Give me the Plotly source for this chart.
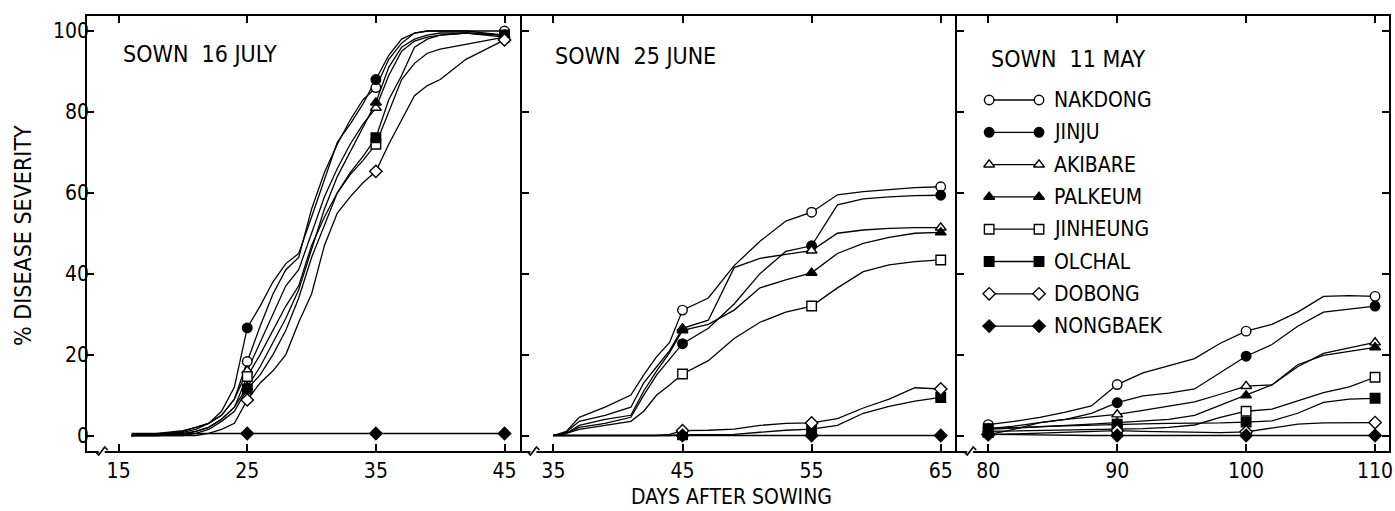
import plotly.graph_objects as go

W, H = 1395, 511
FONT = "DejaVu Sans Condensed, DejaVu Sans, sans-serif"

# ---------------- data ----------------
VARIETIES = ["NAKDONG", "JINJU", "AKIBARE", "PALKEUM", "JINHEUNG", "OLCHAL", "DOBONG", "NONGBAEK"]
SYMBOLS = ["circle", "circle", "triangle-up", "triangle-up", "square", "square", "diamond", "diamond"]
FILLS = ["white", "black", "white", "black", "white", "black", "white", "black"]
PANEL_TITLES = ["SOWN\u00a0\u00a016 JULY", "SOWN\u00a0\u00a025 JUNE", "SOWN\u00a0\u00a011 MAY"]
X_TITLE = "DAYS AFTER SOWING"
Y_TITLE = "% DISEASE SEVERITY"

# Sown 16 July
JULY_DAYS = [16, 18, 20, 21, 22, 23, 24, 25, 26, 27, 28, 29, 30, 31, 32, 33, 34, 35, 36, 37, 38, 39, 40, 42, 45]
JULY_MEASURED = [25, 35, 45]
JULY_TICKS = [15, 25, 35, 45]
JULY_NAKDONG = [0, 0.3, 1, 2, 3, 5, 9, 18.3, 27, 35, 41, 44, 56, 65, 72, 78, 83, 86, 93, 97, 99.5, 100, 100, 100, 100]
JULY_JINJU = [0, 0.5, 1.2, 2, 3, 6, 12, 26.6, 32, 38, 42.5, 45, 54, 63, 72.5, 77, 82, 88, 94, 98, 99.5, 100, 100, 100, 99]
JULY_AKIBARE = [0, 0.2, 0.8, 1.5, 3, 5, 9, 16, 23, 30, 37, 41, 50, 59, 66, 72, 77, 81, 89, 95, 97.5, 98.5, 99, 99.5, 99]
JULY_PALKEUM = [0, 0, 0.5, 1, 2, 4, 7, 12, 17, 23, 29, 36, 46, 56, 64, 70, 76, 82.3, 91, 96, 98, 99, 99.5, 99.5, 98.5]
JULY_JINHEUNG = [0, 0, 0.3, 1, 2, 4, 7, 14.6, 20, 26, 32, 37, 47, 54, 60, 64.5, 68, 72, 80, 88, 92, 94.5, 95.5, 96.7, 98.5]
JULY_OLCHAL = [0, 0, 0, 0.5, 1.5, 3.5, 6, 11.5, 15, 20, 26, 34, 44, 52, 60, 65, 69, 73.6, 83, 89, 96, 98, 99, 99.5, 99]
JULY_DOBONG = [0, 0, 0, 0, 0.5, 1.5, 3, 8.8, 13, 16, 20, 28, 35, 47, 55, 59, 62.5, 65.3, 72, 78, 84, 86.5, 88, 93, 97.8]
JULY_NONGBAEK = [0.5, 0.5, 0.5, 0.5, 0.5, 0.5, 0.5, 0.5, 0.5, 0.5, 0.5, 0.5, 0.5, 0.5, 0.5, 0.5, 0.5, 0.5, 0.5, 0.5, 0.5, 0.5, 0.5, 0.5, 0.5]

# Sown 25 June
JUNE_DAYS = [35, 36, 37, 39, 41, 42, 43, 44, 45, 47, 49, 51, 53, 55, 57, 59, 61, 63, 65]
JUNE_MEASURED = [45, 55, 65]
JUNE_TICKS = [35, 45, 55, 65]
JUNE_NAKDONG = [0, 1, 4.5, 7, 10, 15, 19.5, 23, 31, 34, 42, 48, 53, 55.2, 59.5, 60.3, 60.8, 61.3, 61.5]
JUNE_JINJU = [0, 0.5, 2, 3, 4.5, 10, 15, 19, 22.7, 26.5, 32.5, 40, 45.5, 46.9, 57, 58.5, 59, 59.3, 59.4]
JUNE_AKIBARE = [0, 0.8, 3.5, 5, 7, 13, 17, 21, 26.5, 28.5, 41.5, 43.8, 44.8, 45.7, 50, 50.8, 51.2, 51.4, 51.4]
JUNE_PALKEUM = [0, 0.5, 2.5, 4, 5, 11, 16, 20.5, 26, 27.5, 31, 36.5, 38.5, 40.2, 45, 47.5, 49, 50, 50.2]
JUNE_JINHEUNG = [0, 0.5, 1.5, 2.5, 3.5, 6, 10, 12.5, 15.2, 18.5, 24, 28, 30.5, 32, 36.5, 40.5, 42.2, 43, 43.4]
JUNE_OLCHAL = [0, 0, 0, 0, 0, 0, 0, 0, 0.2, 0.2, 0.3, 0.8, 1.3, 1.6, 2.5, 5.5, 7.2, 8.5, 9.4]
JUNE_DOBONG = [0, 0, 0, 0, 0, 0, 0, 0.3, 1.2, 1.3, 1.6, 2.5, 3, 3.1, 4.2, 6.8, 9, 11.8, 11.5]
JUNE_NONGBAEK = [0, 0, 0, 0, 0, 0, 0, 0, 0, 0, 0, 0, 0, 0, 0, 0, 0, 0, 0]

# Sown 11 May
MAY_DAYS = [80, 82, 84, 86, 88, 90, 92, 94, 96, 98, 100, 102, 104, 106, 108, 110]
MAY_MEASURED = [80, 90, 100, 110]
MAY_TICKS = [80, 90, 100, 110]
MAY_NAKDONG = [2.7, 3.5, 4.5, 5.8, 7.3, 12.6, 15.5, 17.2, 19, 22.8, 25.8, 27.5, 30.5, 34.4, 34.6, 34.4]
MAY_JINJU = [1.7, 2.3, 3.2, 4, 5.5, 8.1, 9.8, 10.5, 11.5, 15.5, 19.6, 22.5, 27, 30.5, 31.3, 32]
MAY_AKIBARE = [0.2, 1.5, 3.2, 4, 4.6, 5.2, 6.2, 7.2, 8.3, 10.2, 12.2, 12.5, 17, 20.3, 21.6, 23]
MAY_PALKEUM = [1.5, 1.8, 2.2, 2.5, 2.8, 3.2, 3.6, 4, 5, 7.5, 9.9, 12.5, 17.5, 19.8, 20.8, 21.8]
MAY_JINHEUNG = [1, 1.1, 1.2, 1.3, 1.4, 1.5, 1.7, 2, 2.6, 4.5, 6, 6.5, 8.5, 10.6, 12, 14.4]
MAY_OLCHAL = [1.7, 2, 2.2, 2.4, 2.6, 2.8, 2.9, 3, 3, 3.1, 3.3, 3.6, 5.5, 8.2, 9, 9.2]
MAY_DOBONG = [0.2, 0.4, 0.6, 0.8, 1, 1.2, 1, 0.9, 0.8, 0.7, 0.9, 1.8, 2.8, 3.1, 3.2, 3.2]
MAY_NONGBAEK = [0.3, 0.2, 0.1, 0.1, 0, 0, 0, 0, 0, 0, 0, 0, 0, 0, 0, 0]

Y_TICKS = [0, 20, 40, 60, 80, 100]

JULY = [JULY_NAKDONG, JULY_JINJU, JULY_AKIBARE, JULY_PALKEUM, JULY_JINHEUNG, JULY_OLCHAL, JULY_DOBONG, JULY_NONGBAEK]
JUNE = [JUNE_NAKDONG, JUNE_JINJU, JUNE_AKIBARE, JUNE_PALKEUM, JUNE_JINHEUNG, JUNE_OLCHAL, JUNE_DOBONG, JUNE_NONGBAEK]
MAY = [MAY_NAKDONG, MAY_JINJU, MAY_AKIBARE, MAY_PALKEUM, MAY_JINHEUNG, MAY_OLCHAL, MAY_DOBONG, MAY_NONGBAEK]

# ---------------- layout geometry (pixels) ----------------
PLOT_TOP, PLOT_BOTTOM = 15.5, 451
PANELS = [
    dict(left=87.5, right=523, xrange=[12.56, 46.32], days=JULY_DAYS, measured=JULY_MEASURED,
         ticks=JULY_TICKS, series=JULY, title_xy=(121, 54)),
    dict(left=523, right=959.5, xrange=[32.53, 66.24], days=JUNE_DAYS, measured=JUNE_MEASURED,
         ticks=JUNE_TICKS, series=JUNE, title_xy=(555, 56)),
    dict(left=959.5, right=1393, xrange=[77.56, 111.08], days=MAY_DAYS, measured=MAY_MEASURED,
         ticks=MAY_TICKS, series=MAY, title_xy=(992, 59)),
]
YRANGE = [-3.83, 103.83]
LEG_X0, LEG_X1, LEG_TX, LEG_Y0, LEG_DY = 992, 1042, 1055, 100, 32.3


def fx(px):
    return px / W


def fy(py):
    return 1 - py / H


fig = go.Figure()

for i, p in enumerate(PANELS):
    sfx = "" if i == 0 else str(i + 1)
    xa, ya = "x" + sfx, "y" + sfx
    for vals in p["series"]:
        fig.add_trace(go.Scatter(x=p["days"], y=vals, mode="lines",
                                 line=dict(color="black", width=1.3),
                                 xaxis=xa, yaxis=ya, showlegend=False, hoverinfo="skip"))
    for vals, sym, fill in zip(p["series"], SYMBOLS, FILLS):
        mx = [d for d in p["days"] if d in p["measured"]]
        my = [v for d, v in zip(p["days"], vals) if d in p["measured"]]
        fig.add_trace(go.Scatter(x=mx, y=my, mode="markers",
                                 marker=dict(symbol=sym, size=9.5, color=fill,
                                             line=dict(color="black", width=1.4)),
                                 xaxis=xa, yaxis=ya, showlegend=False, cliponaxis=False,
                                 hoverinfo="skip"))

    axis_x = dict(domain=[fx(p["left"]), fx(p["right"])], range=p["xrange"],
                  tickvals=p["ticks"], ticktext=[str(t) for t in p["ticks"]],
                  showline=True, linecolor="black", linewidth=2, mirror="ticks",
                  ticks="inside", ticklen=7, tickwidth=1.6, tickcolor="black",
                  showgrid=False, zeroline=False, anchor=ya,
                  tickfont=dict(family=FONT, size=21, color="black"),
                  ticklabelstandoff=0, ticklabeloverflow="allow", fixedrange=True)
    axis_y = dict(domain=[fy(PLOT_BOTTOM), fy(PLOT_TOP)], range=YRANGE, tickvals=Y_TICKS,
                  showline=True, linecolor="black", linewidth=2,
                  mirror=("ticks" if i == 2 else False),
                  ticks="inside", ticklen=7, tickwidth=1.6, tickcolor="black",
                  showgrid=False, zeroline=False, anchor=xa,
                  showticklabels=(i == 0),
                  tickfont=dict(family=FONT, size=21, color="black"),
                  ticklabelstandoff=-8, ticklabeloverflow="allow", fixedrange=True)
    fig.layout["xaxis" + sfx] = axis_x
    fig.layout["yaxis" + sfx] = axis_y

# overlay pixel-space axes for legend, labels and axis-break marks
fig.layout["xaxis4"] = dict(domain=[0, 1], range=[0, W], visible=False, anchor="y4", fixedrange=True)
fig.layout["yaxis4"] = dict(domain=[0, 1], range=[H, 0], visible=False, anchor="x4", fixedrange=True)

annotations = []
for p, t in zip(PANELS, PANEL_TITLES):
    annotations.append(dict(x=p["title_xy"][0], y=p["title_xy"][1], xref="x4", yref="y4",
                            text=t, showarrow=False, xanchor="left", yanchor="middle",
                            font=dict(family=FONT, size=23, color="black")))

for k, (name, sym, fill) in enumerate(zip(VARIETIES, SYMBOLS, FILLS)):
    ly = LEG_Y0 + k * LEG_DY
    fig.add_trace(go.Scatter(x=[LEG_X0, LEG_X1], y=[ly, ly], mode="lines+markers",
                             line=dict(color="black", width=1.3),
                             marker=dict(symbol=sym, size=9.5, color=fill,
                                         line=dict(color="black", width=1.4)),
                             xaxis="x4", yaxis="y4", showlegend=False, hoverinfo="skip",
                             cliponaxis=False))
    annotations.append(dict(x=LEG_TX, y=ly, xref="x4", yref="y4", text=name, showarrow=False,
                            xanchor="left", yanchor="middle",
                            font=dict(family=FONT, size=21, color="black")))

annotations.append(dict(x=734, y=497, xref="x4", yref="y4", text=X_TITLE, showarrow=False,
                        xanchor="center", yanchor="middle", borderpad=0,
                        font=dict(family=FONT, size=21, color="black")))
annotations.append(dict(x=23, y=235, xref="x4", yref="y4", text=Y_TITLE, showarrow=False,
                        xanchor="center", yanchor="middle", textangle=-90,
                        font=dict(family=FONT, size=23, color="black")))

shapes = []
for bx in [102, 535, 973]:
    by = PLOT_BOTTOM
    shapes.append(dict(type="rect", xref="x4", yref="y4", x0=bx - 3, x1=bx + 3, y0=by - 2, y1=by + 2,
                       fillcolor="white", line=dict(width=0), layer="above"))
    shapes.append(dict(type="path", xref="x4", yref="y4",
                       path=f"M{bx-6},{by+1} L{bx-3},{by+4} L{bx},{by} L{bx+3},{by-4} L{bx+6},{by-1}",
                       line=dict(color="black", width=1.6), layer="above"))

fig.update_layout(width=W, height=H, margin=dict(l=0, r=0, t=0, b=0),
                  paper_bgcolor="white", plot_bgcolor="rgba(0,0,0,0)",
                  annotations=annotations, shapes=shapes, showlegend=False)

fig.write_html("out.html", config={"displayModeBar": False},
               post_script="document.body.style.margin='0';document.body.style.overflow='hidden';")
